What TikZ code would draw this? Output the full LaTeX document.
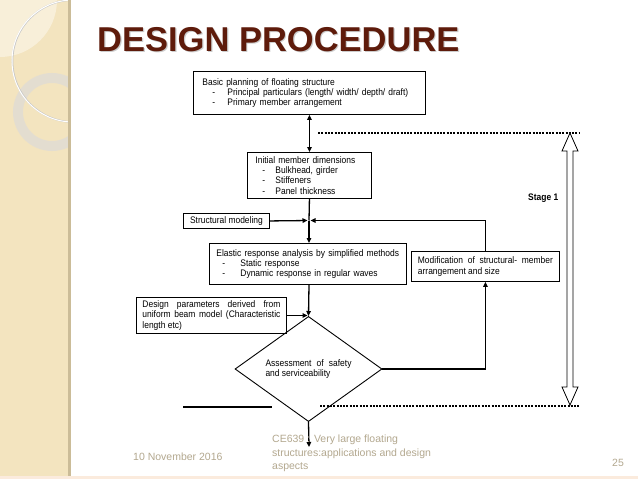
\documentclass[tikz,border=0pt]{standalone}
\usepackage{fontspec}
\setmainfont{Liberation Sans}
\newfontfamily\dfam[FakeStretch=0.89]{Liberation Sans}
\usetikzlibrary{arrows.meta,shapes.geometric}
\definecolor{strip}{HTML}{F3E4BF}
\definecolor{stripedge}{HTML}{CBBC98}
\definecolor{lightlens}{HTML}{F8EFD9}
\definecolor{ringgray}{HTML}{E2DDD2}
\definecolor{titlecol}{HTML}{5E1B0B}
\definecolor{footcol}{HTML}{B3A88F}
\definecolor{bottomband}{HTML}{FBEBDD}
\newcommand{\bul}[3]{\mbox{\hspace*{#1pt}\makebox[#2pt][l]{-}#3}}
\newcommand{\jline}[2]{\makebox[#1pt][s]{#2}}
\tikzset{
  dfont/.style={font=\dfam\fontsize{9.5}{10.3}\selectfont},
  box/.style={draw=black, line width=0.9pt, rectangle, dfont, align=left, anchor=north west, inner ysep=0pt},
  conn/.style={line width=1.3pt, -{Triangle[length=5pt,width=4.5pt]}},
  plain/.style={line width=1.3pt},
  dbl/.style={line width=1.3pt, {Triangle[length=5pt,width=4.5pt]}-{Triangle[length=5pt,width=4.5pt]}},
  dashline/.style={line width=1.2pt, dash pattern=on 2pt off 1.3pt},
  foot/.style={text=footcol, font=\fontsize{10.5}{13.5}\selectfont, inner sep=0pt}
}
\begin{document}
\begin{tikzpicture}[x=1pt,y=-1pt]
\useasboundingbox (0,0) rectangle (638,479);
\fill[white] (0,0) rectangle (638,479);
% left decorative strip
\fill[strip] (0,0) rectangle (69,479);
\begin{scope}
  \clip (0,0) rectangle (68,479);
  \fill[lightlens] (0,0) circle (57);
  \draw[ringgray, line width=10pt, opacity=0.9] (52,112) circle (34);
  \draw[gray!45, line width=1.6pt] (73.5,61) circle (61);
  \draw[white, line width=1pt] (73,61) circle (61);
\end{scope}
\fill[stripedge] (68,0) rectangle (71,479);
\fill[bottomband] (0,476) rectangle (638,479);
% title
\node[anchor=base west, inner sep=0pt, text=gray!40, font=\bfseries\fontsize{34.5}{40}\selectfont] (titleshadow) at (98.2,52.2) {DESIGN PROCEDURE};
\node[anchor=base west, inner sep=0pt, text=titlecol, font=\bfseries\fontsize{34.5}{40}\selectfont] (title) at (97,51) {DESIGN PROCEDURE};
% boxes
\node[box, inner xsep=9pt, text width=214pt, minimum width=232pt, minimum height=43pt] (b1) at (193,71)
 {\mbox{Basic planning of floating structure}\\
  \bul{10}{15}{Principal particulars (length/ width/ depth/ draft)}\\
  \bul{10}{15}{Primary member arrangement}};
\node[box, inner xsep=8pt, text width=108pt, minimum width=124pt, minimum height=46pt] (b2) at (247,152)
 {\mbox{Initial member dimensions}\\
  \bul{7}{13}{Bulkhead, girder}\\
  \bul{7}{13}{Stiffeners}\\
  \bul{7}{13}{Panel thickness}};
\node[box, align=center, inner xsep=0pt, minimum width=86pt, minimum height=15pt] (sm) at (183,213) {Structural modeling};
\node[box, inner xsep=7pt, text width=183pt, minimum width=197pt, minimum height=41pt] (b3) at (209,243)
 {\mbox{Elastic response analysis by simplified methods}\\
  \bul{6}{18}{Static response}\\
  \bul{6}{18}{Dynamic response in regular waves}};
\node[box, inner xsep=6pt, minimum width=148pt, minimum height=30pt] (mod) at (411,251)
 {\jline{135}{Modification\hfill of\hfill structural-\hfill member}\\arrangement and size};
\node[box, inner xsep=6pt, minimum width=150pt, minimum height=36pt] (dp) at (136,297)
 {\jline{138}{Design\hfill parameters\hfill derived\hfill from}\\\jline{138}{uniform\hfill beam\hfill model\hfill (Characteristic}\\length etc)};
\node[diamond, draw=black, line width=0.9pt, dfont, align=left, inner sep=0pt, minimum width=147pt, minimum height=54pt] (dia) at (308.5,369)
 {\jline{86}{Assessment\hfill of\hfill safety}\\and serviceability};
% stage label
\node[font=\dfam\bfseries\fontsize{9.5}{10}\selectfont, anchor=west, inner sep=0pt] (stage) at (528,198) {Stage 1};
% junction and end coordinates
\coordinate (J) at (309,220.5);
\coordinate (E) at (309,447);
% connectors
\draw[dbl] (b1.south) -- (b2.north);
\draw[plain] (b2.south) -- (J);
\draw[conn] (J) -- (J |- b3.north);
\draw[conn, shorten >=1.5pt] (sm.east) -- (J);
\draw[conn, shorten >=1.5pt] (mod.north) |- (J);
\draw[conn] (b3.south -| J) -- (dia.north);
\draw[conn, shorten >=1.5pt] (dp.east) -- (dp.east -| J);
\draw[conn] (dia.east) -| (mod.south);
\draw[conn] (dia.south) -- (E);
% stage 1 bounds
\coordinate (ST) at (570,133);
\coordinate (SB) at (570,405);
\draw[dashline] (318,133) -- (580,133);
\draw[dashline] (320,406) -- (580,406);
\draw[line width=1.3pt] (183,407) -- (272,407);
\draw[line width=0.8pt, fill=white] (ST) -- (578,151) -- (573,151) -- (573,387) -- (578,387) -- (SB) -- (562,387) -- (567,387) -- (567,151) -- (562,151) -- cycle;
% footer
\node[foot, anchor=west] (date) at (133,457) {10 November 2016};
\node[foot, anchor=north west, align=left] (course) at (272,435) {CE639 : Very large floating\\structures:applications and design\\aspects};
\node[foot, anchor=center] (page) at (618,463) {25};
\end{tikzpicture}
\end{document}
